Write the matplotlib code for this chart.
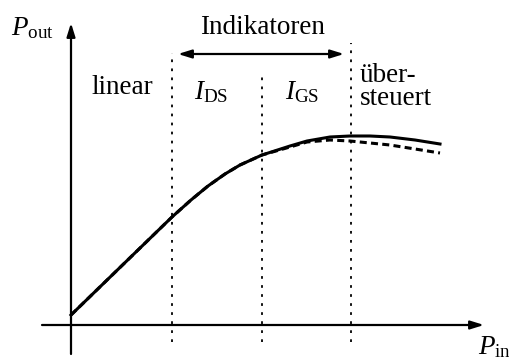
import matplotlib.pyplot as plt
import numpy as np

plt.rcParams['mathtext.fontset'] = 'custom'
plt.rcParams['mathtext.rm'] = 'Liberation Serif'
plt.rcParams['mathtext.it'] = 'Liberation Serif:italic'
plt.rcParams['font.family'] = 'Liberation Serif'

# Kennlinie P_out(P_in), gemessen (durchgezogen) und Modell (gestrichelt)
p_in = [0, 101, 120, 137, 154, 169, 191, 219, 236, 259, 279, 299, 319, 344, 369]
p_out_mess = [10, 108, 125, 139, 151, 160, 170, 179, 184, 188, 189, 189, 188, 185, 181]
p_out_modell = [10, 108, 125, 139, 151, 160, 170, 178, 183, 185, 184, 182, 180, 176, 172]

# Bereichsgrenzen
grenzen = [101, 191, 280]
grenzen_oben = [272, 252, 282]

fig = plt.figure(figsize=(5.09, 3.58), dpi=100)
ax = fig.add_axes([0, 0, 1, 1])
ax.set_xlim(-71, 438)
ax.set_ylim(-33, 325)
ax.axis('off')

pfeil = dict(arrowstyle='-|>,head_length=0.8,head_width=0.25', color='black',
             lw=1.6, shrinkA=0, shrinkB=0)
ax.annotate('', xy=(0, 302), xytext=(0, -29), arrowprops=pfeil)
ax.annotate('', xy=(413, 0), xytext=(-29, 0), arrowprops=pfeil)

for x, y1 in zip(grenzen, grenzen_oben):
    ax.plot([x, x], [-17, y1], color='black', lw=1.3, ls=(0, (1.5, 3.5)))

ax.annotate('', xy=(107, 271), xytext=(273, 271),
            arrowprops=dict(arrowstyle='<|-|>,head_length=0.8,head_width=0.25',
                            color='black', lw=1.6, shrinkA=0, shrinkB=0))

ax.plot(p_in, p_out_mess, color='black', lw=2.2)
ax.plot(p_in, p_out_modell, color='black', lw=2.2, ls=(0, (2.3, 1.4)))

fs = 19.5
ax.text(-60, 297, r'$P_{\mathrm{out}}$', fontsize=fs, va='center', ha='left')
ax.text(191, 297, 'Indikatoren', fontsize=fs, va='center', ha='center')
ax.text(20, 238, 'linear', fontsize=fs, va='center', ha='left')
ax.text(123, 233, r'$I_{\mathrm{DS}}$', fontsize=fs, va='center', ha='left')
ax.text(214, 233, r'$I_{\mathrm{GS}}$', fontsize=fs, va='center', ha='left')
ax.text(289, 238, 'über-\nsteuert', fontsize=fs, va='center', ha='left',
        linespacing=0.92)
ax.text(407, -22, r'$P_{\mathrm{in}}$', fontsize=fs, va='center', ha='left')

fig.savefig('out.png', dpi=100)
